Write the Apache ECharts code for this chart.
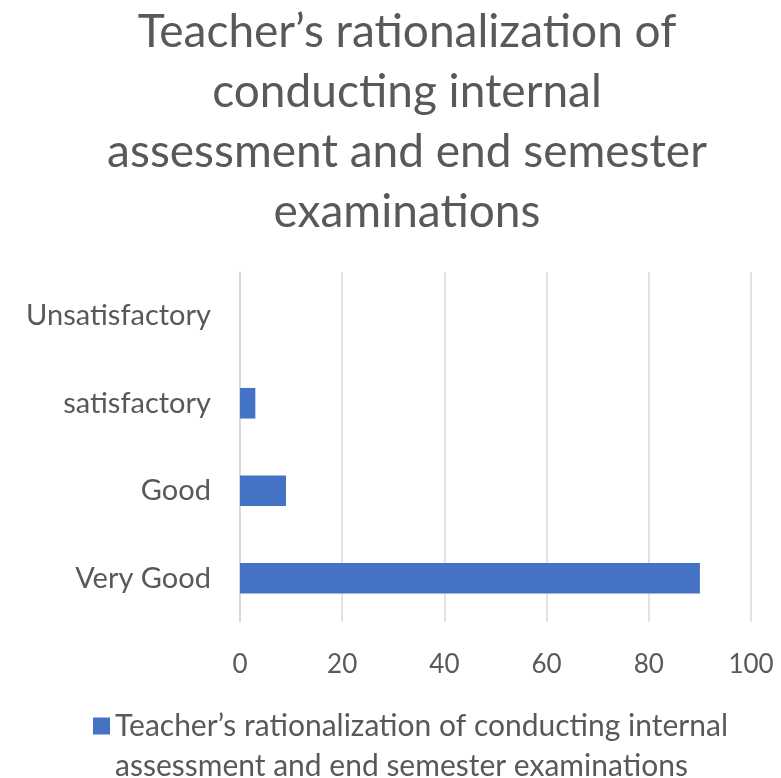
<!DOCTYPE html>
<html>
<head>
    <meta charset="utf-8">
    <title>ECharts</title>
    <script src="https://cdn.jsdelivr.net/npm/echarts@6/dist/echarts.min.js"></script>
</head>
<body style="margin:0">
<div id="main" style="width: 781px;height:778px;"></div>
</body>
<script type="text/javascript">
    // data
    var categories = ['Very Good', 'Good', 'satisfactory', 'Unsatisfactory'];
    var values = [90, 9, 3, 0];
    var seriesName = 'Teacher\u2019s rationalization of conducting internal assessment and end semester examinations';
    var titleText = 'Teacher\u2019s rationalization of\nconducting internal\nassessment and end semester\nexaminations';

    var myChart = echarts.init(document.getElementById('main'));

    myChart.setOption({
        textStyle: {fontFamily: 'Lato'},
        title: {
            text: titleText,
            left: 402,
            textAlign: 'center',
            top: -3,
            textStyle: {fontSize: 46, fontWeight: 'normal', color: '#595959', lineHeight: 60, fontFamily: 'Lato'}
        },
        legend: {
            data: [seriesName],
            left: 93,
            top: 666,
            padding: 0,
            icon: 'rect',
            itemWidth: 17,
            itemHeight: 17,
            itemGap: 8,
            // empty first line so the square lines up with the first text line
            formatter: function () {
                return '\nTeacher\u2019s rationalization of conducting internal\nassessment and end semester examinations';
            },
            textStyle: {fontSize: 30, color: '#595959', lineHeight: 40}
        },
        grid: {left: 240, right: 30, top: 272, bottom: 156},
        xAxis: {
            type: 'value',
            min: 0,
            max: 100,
            interval: 20,
            axisLine: {show: false},
            axisTick: {show: false},
            splitLine: {lineStyle: {color: '#d9d9d9', width: 1.5}},
            axisLabel: {fontSize: 26, color: '#595959', margin: 30}
        },
        yAxis: {
            type: 'category',
            data: categories,
            axisLine: {lineStyle: {color: '#d9d9d9', width: 1.5}},
            axisTick: {show: false},
            axisLabel: {fontSize: 29, color: '#595959', margin: 29}
        },
        series: [{
            name: seriesName,
            type: 'bar',
            data: values,
            barWidth: '35%',
            itemStyle: {color: '#4472c4'}
        }]
    });
</script>
</html>
